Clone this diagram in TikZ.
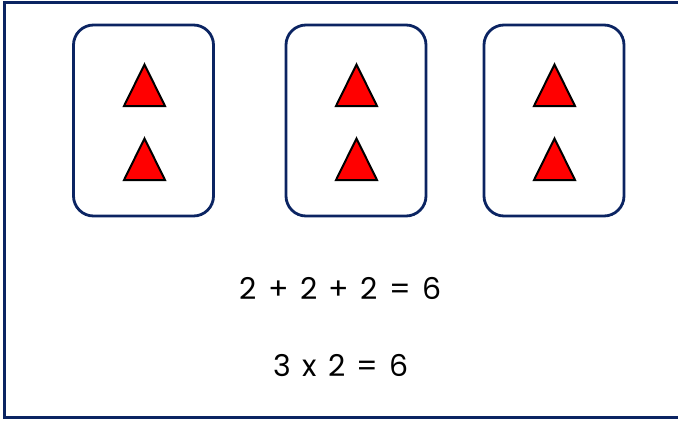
\documentclass[tikz,border=0pt]{standalone}
\usepackage{fontspec}
\setmainfont{Poppins}
\definecolor{navy}{HTML}{0B2462}
\definecolor{tri}{HTML}{FF0000}
\newcommand{\gapx}{\hspace{11.3pt}}
\tikzset{
  card/.style={draw=navy, line width=2.8pt, rounded corners=20pt, minimum width=140pt, minimum height=191pt, inner sep=0pt},
  trishape/.style={draw=black, fill=tri, line width=2pt, line join=miter},
  eq/.style={font=\fontsize{30pt}{34pt}\selectfont, text=black, inner sep=0pt}
}
\begin{document}
\begin{tikzpicture}[x=1pt,y=-1pt]
\useasboundingbox (0,0) rectangle (678,421);
\begin{scope}
\clip (0,0) rectangle (678,421);
\draw[navy, line width=3pt] (4,2.5) rectangle (700,417.5);
\end{scope}
\node[card] (c1) at (143.5,120.5) {};
\node[card] (c2) at (356,120.5) {};
\node[card] (c3) at (554,120.5) {};
\foreach \x in {144.5,356.5,554.5}{
  \draw[trishape] (\x,64.5) -- (\x+20.5,106) -- (\x-20.5,106) -- cycle;
  \draw[trishape] (\x,138.5) -- (\x+20.5,180) -- (\x-20.5,180) -- cycle;
}
\node[eq] (e1) at (340.5,288) {2\gapx+\gapx2\gapx+\gapx2\gapx=\gapx6};
\node[eq] (e2) at (341,365) {3\gapx x\gapx2\gapx=\gapx6};
\end{tikzpicture}
\end{document}
